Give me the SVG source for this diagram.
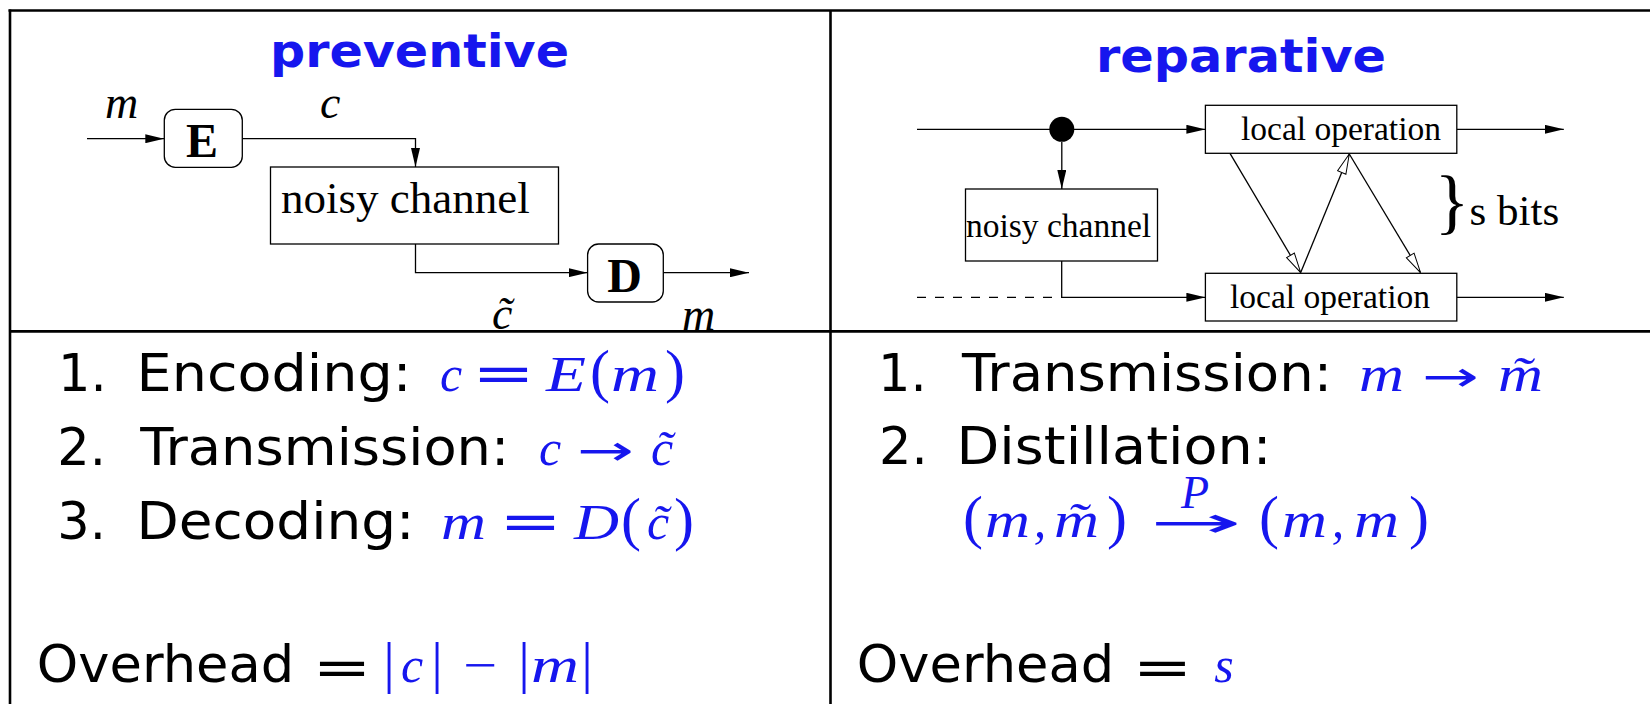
<svg xmlns="http://www.w3.org/2000/svg" width="1650" height="704" viewBox="0 0 1650 704">
<style>
.frame{stroke:#000;fill:none}
.ln{stroke:#000;stroke-width:1.3;fill:none}
.box{stroke:#000;stroke-width:1.3;fill:#fff}
.title{font-family:'DejaVu Sans',sans-serif;font-weight:bold;font-size:46px;fill:#1616ee}
.sans{font-family:'DejaVu Sans',sans-serif;font-size:51px;fill:#000}
.mi{font-family:'Liberation Serif',serif;font-style:italic;font-size:50px;fill:#1616ee}
.mu{font-family:'Liberation Serif',serif;font-size:50px;fill:#1616ee}
.arr{font-family:'DejaVu Sans',sans-serif;font-size:42px;fill:#1616ee}
.par{font-family:'Liberation Serif',serif;font-size:60px;fill:#1616ee;text-anchor:middle}
.meq{font-family:'DejaVu Sans',sans-serif;font-size:51px;fill:#1616ee}
.lbl{font-family:'Liberation Serif',serif;font-style:italic;font-size:46px;fill:#000}
.bt{font-family:'Liberation Serif',serif;font-size:45px;fill:#000}
.bs{font-family:'Liberation Serif',serif;font-size:33.5px;fill:#000}
.key{font-family:'Liberation Serif',serif;font-weight:bold;font-size:48px;fill:#000;text-anchor:middle}
.mid{text-anchor:middle}
</style>
<defs>
<marker id="ah" viewBox="0 0 19 9" refX="19" refY="4.5" markerWidth="19" markerHeight="9" markerUnits="userSpaceOnUse" orient="auto"><path d="M0,0 L19,4.5 L0,9 z" fill="#000"/></marker>
<marker id="oh" viewBox="-1 -1 22 11" refX="20" refY="4.5" markerWidth="22" markerHeight="11" markerUnits="userSpaceOnUse" orient="auto"><path d="M0,0 L20,4.5 L0,9 z" fill="#fff" stroke="#000" stroke-width="1"/></marker>
</defs>
<rect width="1650" height="704" fill="#fff"/>

<!-- table frame -->
<g id="table">
<line class="frame" x1="8.5" y1="10.5" x2="1650" y2="10.5" stroke-width="2.4"/>
<line class="frame" x1="10" y1="9.5" x2="10" y2="704" stroke-width="2.6"/>
<line class="frame" x1="830.5" y1="10" x2="830.5" y2="704" stroke-width="2.6"/>
</g>

<!-- titles -->
<text id="title-preventive" class="title" x="270" y="67" textLength="299" lengthAdjust="spacingAndGlyphs">preventive</text>
<text id="title-reparative" class="title" x="1096" y="72" textLength="290" lengthAdjust="spacingAndGlyphs">reparative</text>

<!-- connectors -->
<g id="connectors">
<line class="ln" x1="87" y1="138.7" x2="164.3" y2="138.7" marker-end="url(#ah)"/>
<polyline class="ln" points="242.3,138.7 415.5,138.7 415.5,167" marker-end="url(#ah)"/>
<polyline class="ln" points="415.5,244 415.5,272.7 587.6,272.7" marker-end="url(#ah)"/>
<line class="ln" x1="663.3" y1="272.7" x2="749" y2="272.7" marker-end="url(#ah)"/>

<line class="ln" x1="917" y1="129.3" x2="1205.4" y2="129.3" marker-end="url(#ah)"/>
<line class="ln" x1="1061.8" y1="142" x2="1061.8" y2="189" marker-end="url(#ah)"/>
<polyline class="ln" points="1061.7,261 1061.7,297.3 1205.4,297.3" marker-end="url(#ah)"/>
<line class="ln" x1="917" y1="297.3" x2="1061.7" y2="297.3" stroke-dasharray="9 9"/>
<line class="ln" x1="1456.8" y1="129.3" x2="1563.8" y2="129.3" marker-end="url(#ah)"/>
<line class="ln" x1="1456.8" y1="297.3" x2="1563.8" y2="297.3" marker-end="url(#ah)"/>
<line class="ln" x1="1230" y1="153.3" x2="1300.7" y2="272.6" stroke-width="1.1" marker-end="url(#oh)"/>
<line class="ln" x1="1300.7" y1="272.6" x2="1349.3" y2="154" stroke-width="1.1" marker-end="url(#oh)"/>
<line class="ln" x1="1349.3" y1="154" x2="1420.5" y2="272.6" stroke-width="1.1" marker-end="url(#oh)"/>
<circle cx="1061.8" cy="129.3" r="12.5" fill="#000"/>
</g>

<!-- left diagram nodes -->
<g id="node-E">
<rect class="box" x="164.3" y="109.3" width="78" height="58" rx="11"/>
<text class="key" x="202" y="157">E</text>
</g>
<g id="node-channel-left">
<rect class="box" x="270.5" y="167" width="288" height="77"/>
<text class="bt" x="281" y="213">noisy channel</text>
</g>
<g id="node-D">
<rect class="box" x="587.6" y="244" width="75.7" height="58" rx="11"/>
<text class="key" x="624.5" y="292">D</text>
</g>
<g id="labels-left">
<text class="lbl" x="105" y="118">m</text>
<text class="lbl" x="320" y="118">c</text>
<text class="lbl" x="492" y="329">c&#x303;</text>
<text class="lbl" x="682" y="330">m</text>
</g>

<!-- right diagram nodes -->
<g id="node-channel-right">
<rect class="box" x="965.5" y="189" width="192" height="72"/>
<text class="bs" x="966" y="236.7">noisy channel</text>
</g>
<g id="node-local-top">
<rect class="box" x="1205.4" y="105.3" width="251.4" height="48"/>
<text class="bs" x="1241" y="140">local operation</text>
</g>
<g id="node-local-bottom">
<rect class="box" x="1205.4" y="273.3" width="251.4" height="47.7"/>
<text class="bs" x="1230" y="308">local operation</text>
</g>
<g id="sbits">
<text x="1452" y="225" style="font-family:'Liberation Serif',serif;font-size:72px" text-anchor="middle">}</text>
<text x="1469.5" y="225" style="font-family:'Liberation Serif',serif;font-size:43px">s bits</text>
</g>

<line class="frame" x1="10" y1="331.3" x2="1650" y2="331.3" stroke-width="2.8"/>

<!-- left list -->
<g id="list-left">
<text class="sans" x="58" y="391">1.</text>
<text class="sans" x="136.5" y="391" textLength="275" lengthAdjust="spacingAndGlyphs">Encoding:</text>
<text class="mi mid" x="451" y="391">c</text>
<text class="meq" x="472" y="391" textLength="63" lengthAdjust="spacingAndGlyphs">=</text>
<text class="mi" x="546" y="391" textLength="40" lengthAdjust="spacingAndGlyphs">E</text>
<text class="par" x="600" y="391">(</text>
<text class="mi" x="611" y="391" textLength="48" lengthAdjust="spacingAndGlyphs">m</text>
<text class="par" x="675" y="391">)</text>

<text class="sans" x="57.3" y="465">2.</text>
<text class="sans" x="140.3" y="465" textLength="369" lengthAdjust="spacingAndGlyphs">Transmission:</text>
<text class="mi mid" x="550" y="465">c</text>
<text class="arr" x="577" y="465" textLength="57" lengthAdjust="spacingAndGlyphs">→</text>
<text class="mi" x="651" y="465">c&#x303;</text>

<text class="sans" x="57.3" y="539">3.</text>
<text class="sans" x="136.5" y="539" textLength="278" lengthAdjust="spacingAndGlyphs">Decoding:</text>
<text class="mi" x="441" y="539" textLength="45" lengthAdjust="spacingAndGlyphs">m</text>
<text class="meq" x="499" y="539" textLength="63" lengthAdjust="spacingAndGlyphs">=</text>
<text class="mi" x="574" y="539" textLength="45" lengthAdjust="spacingAndGlyphs">D</text>
<text class="par" x="631" y="539">(</text>
<text class="mi" x="647" y="539">c&#x303;</text>
<text class="par" x="684" y="539">)</text>

<text class="sans" x="36.8" y="682" textLength="257.5" lengthAdjust="spacingAndGlyphs">Overhead</text>
<text class="sans" x="312.5" y="685" textLength="59" lengthAdjust="spacingAndGlyphs">=</text>
<text class="par" x="389" y="682" style="font-size:58px">|</text>
<text class="mi mid" x="412" y="682">c</text>
<text class="par" x="437" y="682" style="font-size:58px">|</text>
<text class="mu" x="463" y="682" textLength="34" lengthAdjust="spacingAndGlyphs">−</text>
<text class="par" x="524" y="682" style="font-size:58px">|</text>
<text class="mi" x="531" y="682" textLength="48" lengthAdjust="spacingAndGlyphs">m</text>
<text class="par" x="587" y="682" style="font-size:58px">|</text>
</g>

<!-- right list -->
<g id="list-right">
<text class="sans" x="878" y="391">1.</text>
<text class="sans" x="962" y="391" textLength="370" lengthAdjust="spacingAndGlyphs">Transmission:</text>
<text class="mi" x="1359" y="391" textLength="45" lengthAdjust="spacingAndGlyphs">m</text>
<text class="arr" x="1422" y="391" textLength="57" lengthAdjust="spacingAndGlyphs">→</text>
<text class="mi" x="1498" y="391" textLength="45" lengthAdjust="spacingAndGlyphs">m&#x303;</text>

<text class="sans" x="879" y="464">2.</text>
<text class="sans" x="956.5" y="464" textLength="315" lengthAdjust="spacingAndGlyphs">Distillation:</text>

<text class="par" x="973" y="537">(</text>
<text class="mi" x="985" y="537" textLength="45" lengthAdjust="spacingAndGlyphs">m</text>
<text class="mi mid" x="1040" y="537">,</text>
<text class="mi" x="1054" y="537" textLength="45" lengthAdjust="spacingAndGlyphs">m&#x303;</text>
<text class="par" x="1117" y="537">)</text>
<text class="arr" x="1150" y="537" textLength="92" lengthAdjust="spacingAndGlyphs">→</text>
<text class="mi mid" x="1195" y="508" style="font-size:46px">P</text>
<text class="par" x="1269" y="537">(</text>
<text class="mi" x="1282" y="537" textLength="45" lengthAdjust="spacingAndGlyphs">m</text>
<text class="mi mid" x="1338" y="537">,</text>
<text class="mi" x="1354" y="537" textLength="45" lengthAdjust="spacingAndGlyphs">m</text>
<text class="par" x="1419" y="537">)</text>

<text class="sans" x="856.8" y="682" textLength="257.5" lengthAdjust="spacingAndGlyphs">Overhead</text>
<text class="sans" x="1132.5" y="685" textLength="60" lengthAdjust="spacingAndGlyphs">=</text>
<text class="mi mid" x="1224" y="682">s</text>
</g>
</svg>
